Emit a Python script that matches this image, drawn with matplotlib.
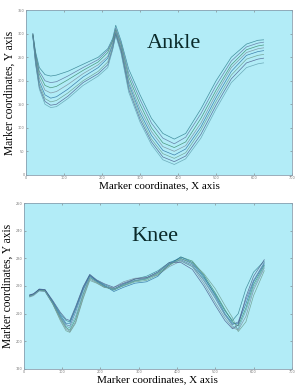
import matplotlib.pyplot as plt

# ankle trajectories (marker x / y coordinates), one list per trial
ankle_x = [18, 25, 35, 50, 65, 80, 110, 150, 190, 215, 228, 236, 250, 270, 300,
           330, 360, 390, 420, 460, 500, 540, 580, 610, 625]
ankle_y = [
    [300, 262, 228, 213, 210, 212, 220, 235, 250, 268, 290, 318, 285, 225, 170, 120, 88, 76, 88, 140, 200, 250, 278, 286, 287],
    [300, 258, 220, 200, 196, 198, 210, 228, 245, 265, 286, 312, 280, 216, 160, 110, 78, 66, 80, 130, 190, 242, 272, 280, 282],
    [298, 254, 214, 190, 185, 188, 202, 222, 240, 260, 284, 308, 276, 208, 150, 100, 68, 58, 70, 120, 180, 234, 266, 274, 276],
    [298, 250, 206, 180, 174, 177, 192, 215, 234, 252, 280, 306, 272, 200, 140, 92, 60, 50, 62, 110, 172, 228, 260, 268, 270],
    [296, 246, 198, 170, 163, 166, 182, 208, 228, 248, 276, 302, 268, 194, 132, 84, 52, 42, 55, 102, 164, 220, 254, 262, 264],
    [296, 242, 192, 162, 155, 158, 174, 200, 220, 240, 272, 300, 265, 188, 125, 76, 45, 35, 47, 95, 156, 212, 246, 254, 256],
    [294, 238, 186, 156, 148, 150, 167, 196, 215, 234, 268, 298, 262, 182, 118, 70, 38, 28, 40, 86, 148, 204, 238, 246, 248],
    [294, 236, 182, 150, 143, 145, 162, 190, 210, 228, 266, 296, 258, 176, 112, 64, 32, 22, 34, 78, 140, 196, 228, 236, 238],
]

# knee trajectories
knee_x = [15, 25, 40, 55, 75, 95, 110, 120, 135, 155, 172, 190, 210, 235, 260,
          290, 320, 350, 380, 410, 440, 470, 500, 525, 545, 560, 580, 600, 628]
knee_y = [
    [216.5, 217.0, 218.8, 218.6, 214.5, 210.0, 207.5, 207.0, 212.0, 219.5, 224.0, 222.0, 220.5, 219.0, 220.5, 222.5, 223.5, 225.5, 228.5, 230.0, 228.0, 223.0, 217.0, 211.0, 207.5, 210.0, 219.0, 225.0, 229.0],
    [216.8, 217.2, 218.6, 218.4, 214.0, 209.0, 206.0, 205.5, 210.5, 218.5, 223.5, 221.8, 220.0, 218.8, 220.8, 222.0, 222.8, 225.0, 228.0, 229.5, 227.5, 222.0, 215.5, 209.5, 206.0, 207.0, 215.0, 222.0, 228.5],
    [216.2, 216.8, 218.5, 218.2, 213.8, 208.5, 205.0, 204.0, 208.0, 217.0, 223.0, 221.5, 219.8, 218.5, 220.2, 221.8, 222.5, 224.5, 227.5, 230.5, 229.0, 224.0, 217.5, 211.5, 207.0, 205.5, 212.0, 220.5, 227.5],
    [216.0, 216.5, 218.2, 218.0, 213.5, 208.0, 204.5, 203.5, 207.0, 216.0, 222.5, 221.2, 219.5, 219.5, 221.5, 222.8, 223.0, 224.0, 227.0, 229.0, 227.0, 221.0, 214.0, 208.5, 205.0, 204.0, 209.0, 218.5, 226.5],
    [216.6, 217.0, 218.7, 218.5, 214.2, 209.5, 206.5, 206.5, 211.5, 219.0, 223.8, 221.8, 220.2, 218.0, 219.5, 221.0, 221.5, 223.5, 228.0, 230.5, 228.5, 223.5, 216.5, 210.0, 206.5, 206.5, 213.5, 221.5, 228.0],
    [216.4, 216.9, 218.4, 218.3, 213.6, 207.5, 203.8, 203.2, 206.5, 215.5, 222.0, 221.0, 219.5, 218.8, 220.0, 221.5, 222.0, 224.0, 227.5, 229.8, 228.5, 224.5, 219.0, 213.0, 208.5, 203.5, 207.0, 216.5, 225.5],
    [216.7, 217.1, 218.9, 218.7, 214.8, 210.5, 208.0, 207.5, 212.5, 219.8, 224.2, 222.2, 220.8, 219.5, 221.0, 222.5, 223.0, 225.0, 228.5, 228.5, 226.0, 220.0, 213.0, 207.5, 204.5, 206.0, 216.0, 223.5, 229.5],
    [216.3, 216.8, 218.3, 218.1, 213.9, 208.8, 205.5, 204.8, 209.0, 217.5, 223.2, 221.6, 219.9, 218.6, 220.3, 221.9, 222.6, 224.8, 228.2, 229.2, 227.0, 222.5, 216.0, 210.0, 205.5, 204.5, 211.0, 219.5, 227.0],
]

line_colors = ['#2f7f8f', '#5a6f9a', '#3a8a6a', '#7a8a9a', '#2a6fa0',
               '#6a9a8a', '#4a5a8a', '#5f9fae']
bg = '#b2ecf7'
serif = 'Liberation Serif'

fig = plt.figure(figsize=(2.99, 3.92), dpi=100)

ax1 = fig.add_axes([0.087, 0.554, 0.890, 0.420])
ax2 = fig.add_axes([0.080, 0.059, 0.896, 0.423])

for ax, xs, ys in [(ax1, ankle_x, ankle_y), (ax2, knee_x, knee_y)]:
    ax.set_facecolor(bg)
    for i, y in enumerate(ys):
        ax.plot(xs, y, color=line_colors[i % len(line_colors)], lw=0.5, alpha=0.85)
    ax.set_xlim(0, 700)
    ax.set_xticks(range(0, 701, 100))
    ax.tick_params(labelsize=2.5, colors='#777777', length=1.5, width=0.4,
                   direction='in', pad=1, top=True, right=True)
    for s in ax.spines.values():
        s.set_color('#8aa0b0')
        s.set_linewidth(0.6)
    ax.set_xlabel('Marker coordinates, X axis', family=serif, fontsize=8, labelpad=1)
    ax.set_ylabel('Marker coordinates, Y axis', family=serif, fontsize=8.3, labelpad=1.5)

ax1.set_ylim(0, 350)
ax1.set_yticks(range(0, 351, 50))
ax2.set_ylim(190, 250)
ax2.set_yticks(range(190, 251, 10))

ax1.text(0.555, 0.80, 'Ankle', transform=ax1.transAxes, family=serif,
         fontsize=16, color='#0a2a2a', ha='center', va='center')
ax2.text(0.49, 0.80, 'Knee', transform=ax2.transAxes, family=serif,
         fontsize=16, color='#0a2a2a', ha='center', va='center')

fig.savefig('out.png', dpi=100)
